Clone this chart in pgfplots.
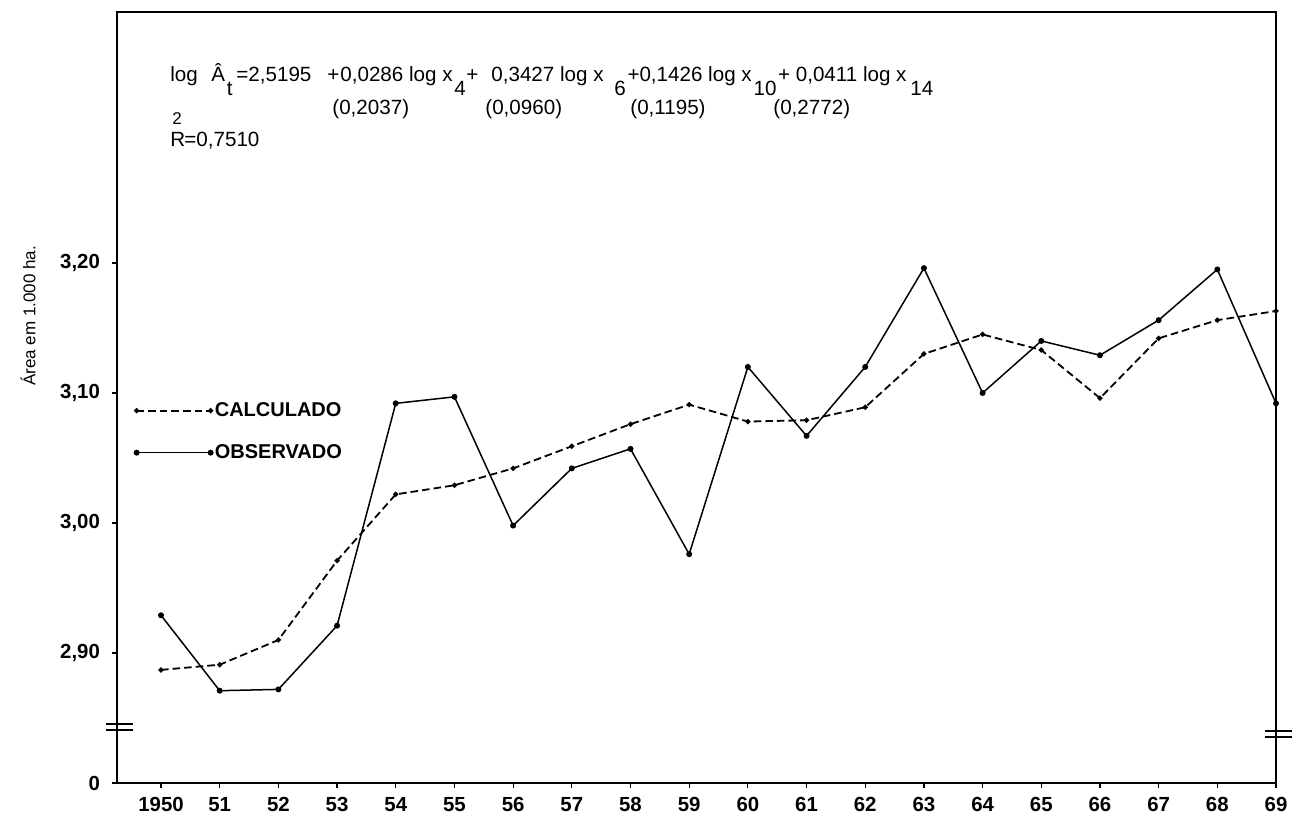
\documentclass[border=0pt]{standalone}
\usepackage{pgfplots}
\usepackage{pgfplotstable}
\pgfplotsset{compat=1.18}
\usepackage{fontspec}
\setmainfont{Liberation Sans}

\pgfplotstableread{
x calc obs
0 2.887 2.929
1 2.891 2.871
2 2.910 2.872
3 2.971 2.921
4 3.022 3.092
5 3.029 3.097
6 3.042 2.998
7 3.059 3.042
8 3.076 3.057
9 3.091 2.976
10 3.078 3.120
11 3.079 3.067
12 3.089 3.120
13 3.130 3.196
14 3.145 3.100
15 3.133 3.140
16 3.096 3.129
17 3.142 3.156
18 3.156 3.195
19 3.163 3.092
}\datatable

\newcommand{\eqf}{\fontsize{10.3}{12}\selectfont}

\begin{document}
\begin{tikzpicture}
\path[use as bounding box] (0pt,0pt) rectangle (646.5pt,407.5pt);
\begin{axis}[
  at={(58.5pt,16pt)}, anchor=south west,
  scale only axis, width=579.5pt, height=385.5pt,
  xmin=-0.75, xmax=19, ymin=2.80, ymax=3.393,
  axis line style={line width=1.4pt},
  xtick={0,...,19},
  xticklabels={1950,51,52,53,54,55,56,57,58,59,60,61,62,63,64,65,66,67,68,69},
  ytick={2.80,2.90,3.00,3.10,3.20},
  yticklabels={0,{2,90},{3,00},{3,10},{3,20}},
  tick align=outside, xtick pos=bottom, ytick pos=left,
  major tick length=2.5pt,
  tick style={line width=0.6pt, black},
  ticklabel style={font=\fontsize{10.2}{12}\selectfont\bfseries},
  xticklabel style={yshift=-1pt},
  yticklabel style={xshift=-2.5pt},
  clip=false,
  legend style={at={(0.0147,0.497)}, anchor=north west, draw=none, fill=none,
    inner sep=0pt, row sep=10.5pt, font=\fontsize{10}{12}\selectfont\bfseries,
    nodes={inner sep=1pt}},
  legend cell align=left,
  legend image code/.code={\draw[#1] plot coordinates {(0pt,0pt) (37pt,0pt)};},
]
\addplot[black, line width=0.9pt, dash pattern=on 3.8pt off 2pt, mark=*, mark size=0.8pt, mark options={solid}]
  table[x=x, y=calc] {\datatable};
\addlegendentry{CALCULADO}
\addplot[black, line width=0.75pt, mark=*, mark size=1.1pt]
  table[x=x, y=obs] {\datatable};
\addlegendentry{OBSERVADO}
% axis breaks
\draw[line width=0.8pt] (axis cs:-0.937,2.8452) -- (axis cs:-0.477,2.8452);
\draw[line width=0.8pt] (axis cs:-0.937,2.8406) -- (axis cs:-0.477,2.8406);
\draw[line width=1.2pt] (axis cs:18.81,2.8398) -- (axis cs:19.27,2.8398);
\draw[line width=1.2pt] (axis cs:18.81,2.8352) -- (axis cs:19.27,2.8352);
\end{axis}
% y label
\node[rotate=90] at (14pt,249.5pt) {\fontsize{8.5}{10}\selectfont Área em 1.000 ha.};
% equation
\begin{scope}[every node/.style={anchor=base west, inner sep=0pt}]
\node at (85pt,366.5pt) {\eqf log};
\node (A) at (105.5pt,366.5pt) {\eqf Â};
\node at ([xshift=0.5pt,yshift=-7pt]A.base east) {\eqf t};
\node at (118pt,366.5pt) {\eqf =2,5195};
\node at (163.5pt,366.5pt) {\eqf +};
\node (t1) at (170pt,366.5pt) {\eqf 0,0286 log x};
\node at ([xshift=0.5pt,yshift=-7pt]t1.base east) {\eqf 4};
\node at (233pt,366.5pt) {\eqf +};
\node (t2) at (245.5pt,366.5pt) {\eqf 0,3427 log x};
\node (s6) at ([xshift=5pt,yshift=-7pt]t2.base east) {\eqf 6};
\node (t3) at ([xshift=0.4pt,yshift=7pt]s6.base east) {\eqf +0,1426 log x};
\node (s10) at ([xshift=0.5pt,yshift=-7pt]t3.base east) {\eqf 10};
\node (t4) at ([xshift=0.4pt,yshift=7pt]s10.base east) {\eqf + 0,0411 log x};
\node at ([xshift=1.5pt,yshift=-7pt]t4.base east) {\eqf 14};
\node at (166pt,350pt) {\eqf (0,2037)};
\node at (242.5pt,350pt) {\eqf (0,0960)};
\node at (315pt,350pt) {\eqf (0,1195)};
\node at (386.5pt,350pt) {\eqf (0,2772)};
\node at (85pt,334pt) {\eqf R};
\node at (86pt,345pt) {\fontsize{8.5}{9}\selectfont 2};
\node at (92pt,334pt) {\eqf =0,7510};
\end{scope}
\end{tikzpicture}
\end{document}
